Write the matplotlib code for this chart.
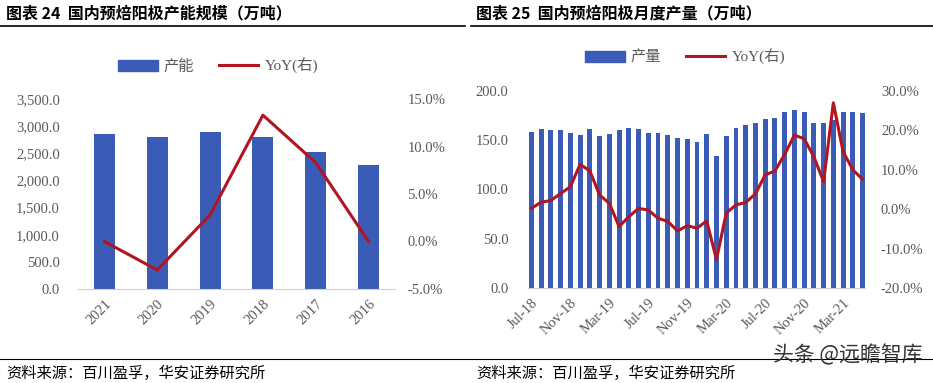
import numpy as np
import matplotlib
matplotlib.use("Agg")
import matplotlib.pyplot as plt
from matplotlib.ticker import FuncFormatter
from matplotlib.lines import Line2D
from matplotlib.patches import Patch

plt.rcParams['font.family'] = ['Liberation Serif', 'Noto Sans CJK SC', 'DejaVu Sans']

# ---- left panel data: capacity ----
years = ["2021", "2020", "2019", "2018", "2017", "2016"]
capacity = [2855, 2800, 2885, 2800, 2523, 2284]
cap_yoy = [0.0, -3.0, 2.8, 13.3, 8.3, 0.0]

# ---- right panel data: monthly output Jul-18 .. May-21 ----
months = ["Jul-18", "Aug-18", "Sep-18", "Oct-18", "Nov-18", "Dec-18",
          "Jan-19", "Feb-19", "Mar-19", "Apr-19", "May-19", "Jun-19",
          "Jul-19", "Aug-19", "Sep-19", "Oct-19", "Nov-19", "Dec-19",
          "Jan-20", "Feb-20", "Mar-20", "Apr-20", "May-20", "Jun-20",
          "Jul-20", "Aug-20", "Sep-20", "Oct-20", "Nov-20", "Dec-20",
          "Jan-21", "Feb-21", "Mar-21", "Apr-21", "May-21"]
output = [158, 161, 160, 160.5, 157.5, 155.8, 161, 154.5, 156.5, 160.2,
          162.6, 161.2, 157.5, 157.2, 155.8, 151.8, 151.1, 148, 156.2, 134.2,
          154.8, 162.2, 165.3, 168, 171.7, 172.7, 178.4, 180.8, 178.8, 167.3,
          167.3, 171, 178.8, 178.8, 178]
out_yoy = [0.2, 1.8, 2.2, 4.0, 5.7, 11.4, 9.7, 3.6, 1.5, -4.4,
           -1.9, 0.2, -0.2, -2.3, -3.1, -5.5, -4.2, -4.8, -3.0, -12.8,
           -1.0, 1.1, 1.7, 3.9, 8.7, 9.7, 13.9, 18.8, 17.9, 13.3,
           7.0, 27.0, 14.6, 10.0, 7.6]
month_ticks = list(range(0, len(months), 4))

BAR = "#3A5CB7"
RED = "#B2151F"
TXT = "#595959"
CJK = ['Noto Sans CJK SC', 'DejaVu Sans']

W, H = 933, 383
fig = plt.figure(figsize=(W / 100, H / 100), dpi=100)

def box(x0, y0, x1, y1):
    return [x0 / W, 1 - y1 / H, (x1 - x0) / W, (y1 - y0) / H]

def style(ax, ax2):
    for s in ["top", "right", "left"]:
        ax.spines[s].set_visible(False)
        ax2.spines[s].set_visible(False)
    ax2.spines["bottom"].set_visible(False)
    ax.spines["bottom"].set_color("#D0D0D0")
    ax.tick_params(axis="both", length=0, colors=TXT, labelsize=10.5)
    ax2.tick_params(axis="both", length=0, colors=TXT, labelsize=10.5)

# ---- left chart ----
ax = fig.add_axes(box(78, 99, 395, 289))
x = np.arange(len(years))
ax.bar(x, capacity, width=0.4, color=BAR, zorder=2)
ax.set_xlim(-0.5, 5.5)
ax.set_ylim(0, 3500)
ax.set_yticks(np.arange(0, 3501, 500))
ax.yaxis.set_major_formatter(FuncFormatter(lambda v, p: f"{v:,.1f}"))
ax.set_xticks(x)
ax.set_xticklabels(years, rotation=45, ha="right", rotation_mode="anchor")
ax2 = ax.twinx()
ax2.plot(x, cap_yoy, color=RED, lw=2.2, zorder=3)
ax2.set_ylim(-5, 15)
ax2.set_yticks(np.arange(-5, 15.1, 5))
ax2.yaxis.set_major_formatter(FuncFormatter(lambda v, p: f"{v:.1f}%"))
style(ax, ax2)
ax.tick_params(axis="y", pad=13)
ax2.tick_params(axis="y", pad=9)
ax.tick_params(axis="x", pad=6)

# ---- right chart ----
bx = fig.add_axes(box(528, 91, 865, 288))
m = np.arange(len(months))
bx.bar(m, output, width=0.5, color=BAR, zorder=2)
bx.set_xlim(-0.35, len(months) - 0.75)
bx.set_ylim(0, 200)
bx.set_yticks(np.arange(0, 201, 50))
bx.yaxis.set_major_formatter(FuncFormatter(lambda v, p: f"{v:.1f}"))
bx.set_xticks(month_ticks)
bx.set_xticklabels([months[i] for i in month_ticks], rotation=45, ha="right",
                   rotation_mode="anchor")
bx2 = bx.twinx()
bx2.plot(m, out_yoy, color=RED, lw=2.2, zorder=3)
bx2.set_ylim(-20, 30)
bx2.set_yticks(np.arange(-20, 30.1, 10))
bx2.yaxis.set_major_formatter(FuncFormatter(lambda v, p: f"{v:.1f}%"))
style(bx, bx2)
bx.tick_params(axis="y", pad=14)
bx2.tick_params(axis="y", pad=11.5)
bx.tick_params(axis="x", pad=6)

# ---- legends ----
def legend(label, cx, cy):
    handles = [Patch(color=BAR), Line2D([0], [0], color=RED, lw=2.2)]
    lg = fig.legend(handles, [label, "YoY(右)"], loc="center",
                    bbox_to_anchor=(cx / W, 1 - cy / H), ncol=2, frameon=False,
                    handlelength=2.6, handleheight=0.7, columnspacing=1.6,
                    handletextpad=0.4, prop={"family": ['Liberation Serif', 'Noto Sans CJK SC'], "size": 11})
    for t in lg.get_texts():
        t.set_color(TXT)

legend("产能", 218, 66)
legend("产量", 685, 57)

# ---- titles, rules, footers ----
fig.text(6 / W, 1 - 13 / H, "图表 24  国内预焙阳极产能规模（万吨）", family=CJK,
         fontsize=11.5, fontweight="bold", va="center", ha="left")
fig.text(476 / W, 1 - 13 / H, "图表 25  国内预焙阳极月度产量（万吨）", family=CJK,
         fontsize=11.5, fontweight="bold", va="center", ha="left")
fig.add_artist(Line2D([0, 465 / W], [1 - 25.5 / H] * 2, color="black", lw=1.2))
fig.add_artist(Line2D([471 / W, 1], [1 - 25.5 / H] * 2, color="black", lw=1.2))
fig.add_artist(Line2D([0, 1], [1 - 359 / H] * 2, color="black", lw=0.8))
fig.text(6 / W, 1 - 373 / H, "资料来源：百川盈孚，华安证券研究所", family=CJK,
         fontsize=11, va="center", ha="left")
fig.text(476 / W, 1 - 373 / H, "资料来源：百川盈孚，华安证券研究所", family=CJK,
         fontsize=11, va="center", ha="left")
fig.text(923 / W, 1 - 355 / H, "头条 @远瞻智库", family=CJK, fontsize=15,
         va="center", ha="right", color="#333333")

fig.savefig("out.png", dpi=100)
